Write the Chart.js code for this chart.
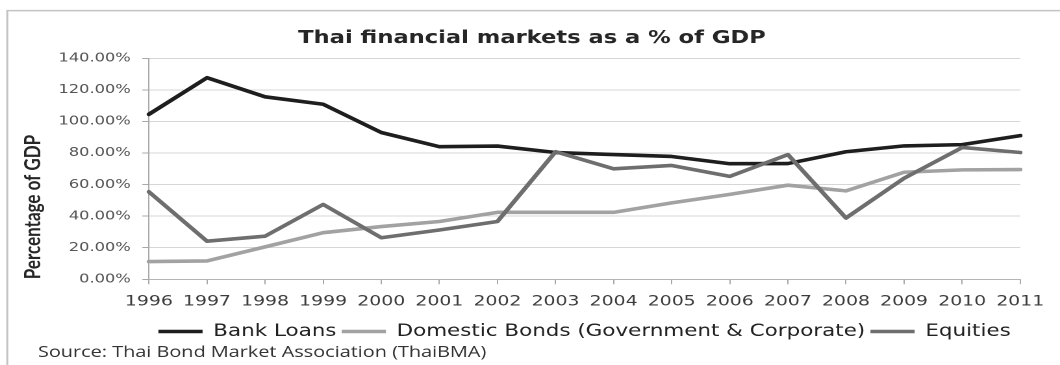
<!DOCTYPE html>
<html>
<head>
<meta charset="utf-8">
<script src="https://cdn.jsdelivr.net/npm/chart.js@4.4.1/dist/chart.umd.min.js"></script>
<style>
  html, body { margin: 0; padding: 0; background: #ffffff; overflow: hidden; }
  /* the chart is laid out at a narrower width and widened horizontally */
  #wrap { width: 816px; height: 365px; transform: scaleX(1.29902); transform-origin: 0 0; }
  canvas { display: block; }
</style>
</head>
<body>
<div id="wrap"><canvas id="chart" width="816" height="365"></canvas></div>
<script>
// Thai financial markets, % of GDP, 1996-2011
const years = ['1996','1997','1998','1999','2000','2001','2002','2003',
               '2004','2005','2006','2007','2008','2009','2010','2011'];
const bankLoans = [104.5, 127.7, 115.6, 110.9, 93.0, 84.0, 84.4, 80.3,
                   79.0, 77.8, 73.2, 73.3, 80.8, 84.5, 85.3, 91.0];
const domesticBonds = [11.2, 11.6, 20.5, 29.5, 33.4, 36.6, 42.4, 42.4,
                       42.4, 48.4, 53.8, 59.6, 56.0, 67.8, 69.3, 69.5];
const equities = [55.4, 24.1, 27.3, 47.4, 26.3, 31.2, 36.6, 80.8,
                  70.0, 72.1, 65.2, 79.0, 38.8, 64.0, 83.5, 80.3];
const yTicks = { min: 0, max: 140, step: 20 };

const chartTitle = 'Thai financial markets as a % of GDP';
const sourceNote = 'Source: Thai Bond Market Association (ThaiBMA)';

// frame, heading and source line
const decorations = {
  id: 'decorations',
  beforeDraw(chart) {
    const ctx = chart.ctx;
    ctx.save();
    ctx.strokeStyle = '#c4c4c4';
    ctx.lineWidth = 1.5;
    ctx.beginPath();
    ctx.moveTo(5.6, 365);
    ctx.lineTo(5.6, 10.6);
    ctx.lineTo(816, 10.6);
    ctx.stroke();
    ctx.restore();
  },
  afterDraw(chart) {
    const ctx = chart.ctx;
    ctx.save();
    ctx.fillStyle = '#262626';
    ctx.font = 'bold 17.4px "DejaVu Sans"';
    ctx.textAlign = 'center';
    ctx.textBaseline = 'alphabetic';
    ctx.fillText(chartTitle, 409.5, 43);
    ctx.fillStyle = '#333333';
    ctx.font = '15.3px "Open Sans"';
    ctx.textAlign = 'left';
    ctx.fillText(sourceNote, 29.2, 357);
    ctx.restore();
  }
};

new Chart(document.getElementById('chart'), {
  type: 'line',
  data: {
    labels: years,
    datasets: [
      { label: 'Bank Loans', data: bankLoans, borderColor: '#1e1e1e',
        backgroundColor: '#1e1e1e', borderWidth: 3.6, pointRadius: 0, order: 2 },
      { label: 'Domestic Bonds (Government & Corporate)', data: domesticBonds,
        borderColor: '#a2a2a2', backgroundColor: '#a2a2a2', borderWidth: 3.6,
        pointRadius: 0, order: 1 },
      { label: 'Equities', data: equities, borderColor: '#6e6e6e',
        backgroundColor: '#6e6e6e', borderWidth: 3.6, pointRadius: 0, order: 0 }
    ]
  },
  options: {
    responsive: false,
    animation: false,
    devicePixelRatio: 2,
    layout: { padding: { top: 58.3, right: 30.6, bottom: 15.25, left: 0 } },
    elements: { line: { tension: 0, borderJoinStyle: 'round', borderCapStyle: 'round' } },
    plugins: {
      title: { display: false },
      tooltip: { enabled: false },
      legend: {
        position: 'bottom',
        fullSize: false,
        labels: {
          usePointStyle: true,
          pointStyle: 'line',
          pointStyleWidth: 34,
          padding: 4,
          color: '#222222',
          font: { family: '"DejaVu Sans"', size: 16.5 },
          sort: (a, b) => a.datasetIndex - b.datasetIndex
        }
      }
    },
    scales: {
      x: {
        type: 'category',
        offset: false,
        afterFit: s => { s.height = 40; },
        grid: { drawOnChartArea: false, drawTicks: true, tickLength: 5,
                color: '#a8a8a8', offset: false },
        border: { display: true, color: '#b4b4b4', width: 1 },
        ticks: { autoSkip: false, maxRotation: 0, padding: 9, color: '#3c3c3c',
                 font: { family: '"DejaVu Sans"', size: 14.5 } }
      },
      y: {
        min: yTicks.min,
        max: yTicks.max,
        afterFit: s => { s.width = 114.6; },
        grid: { color: '#d6d6d6', lineWidth: 1, drawTicks: true, tickLength: 5,
                tickColor: '#a8a8a8' },
        border: { display: true, color: '#a8a8a8', width: 1 },
        ticks: { stepSize: yTicks.step, padding: 9, color: '#555555',
                 font: { family: '"DejaVu Sans"', size: 12.5 },
                 callback: v => v.toFixed(2) + '%' },
        title: { display: true, text: 'Percentage of GDP', align: 'start',
                 color: '#262626', padding: { top: 15.3, bottom: 0 },
                 font: { family: 'Lato', size: 17, weight: 'bold' } }
      }
    }
  },
  plugins: [decorations]
});
</script>
</body>
</html>
